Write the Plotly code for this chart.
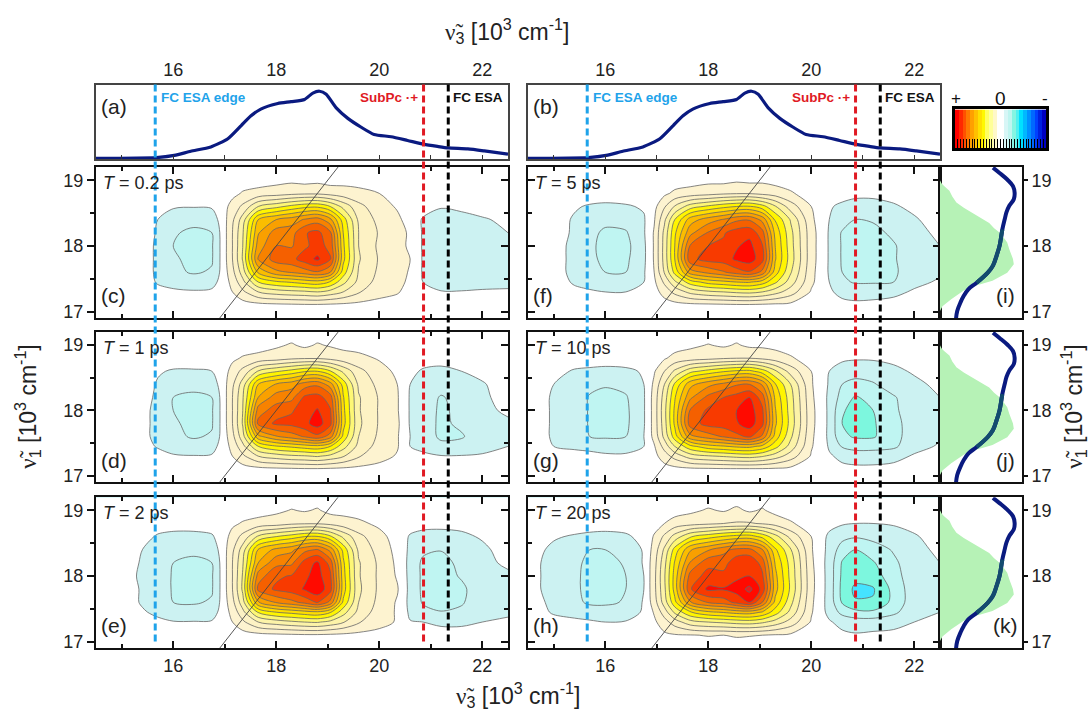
import plotly.graph_objects as go

W, H = 1091, 711

# ---------- data ----------
V3 = [14.5,15.0,15.4,15.7,16.0,16.4,16.75,16.95,17.15,17.35,17.65,18.0,18.3,18.55,18.8,19.05,19.3,19.6,20.0,20.35,20.6,20.85,21.2,21.6,22.0,22.5]
V1 = [16.9,17.1,17.3,17.45,17.6,17.8,18.0,18.2,18.4,18.6,18.8,19.0,19.2]
ZERO = [0]*26

Z_C = [ZERO,
 [0,0,0,0,0,0,0,0, 0,.05,.15,.25,.3,.35,.35,.3,.25,.2,.1,0, 0,0,-.1,-.1,-.1,-.1],
 [0,0,0,-.2,-.3,-.4,-.3,0, .5,1.3,2.5,3,3.2,3.3,3.5,3.1,2.5,1.6,.9,.6, .1,-.3,-.45,-.45,-.4,-.4],
 [0,0,0,-.6,-.9,-1,-.9,-.1, .8,2.2,4.5,5.3,5.6,5.9,6.1,5.4,3.8,2.2,1.1,.8, .3,-.5,-.9,-.9,-.8,-.7],
 [0,0,0,-.7,-1.3,-1.6,-1.4,-.2, 1.2,3,6.7,8.2,8.6,9,9.4,8.5,5,2.4,1.3,.9, .4,-.6,-.9,-.9,-.8,-.8],
 [0,0,0,-.7,-1.4,-1.7,-1.6,-.2, 1.5,3.6,8.6,10,10.2,11,11.7,10.6,5.8,2.6,1.4,1, .5,-.6,-.9,-.9,-.9,-.8],
 [0,0,0,-.7,-1.5,-1.8,-1.6,-.2, 1.5,3.5,8,9.5,9.4,10.3,10.9,10.2,5.7,2.5,1.3,.9, .3,-.6,-.9,-.9,-.9,-.7],
 [0,0,0,-.6,-1.4,-1.7,-1.5,-.2, 1.5,3.4,7.4,9,9.1,10.4,10.8,9.7,5.5,2.5,1.4,1, .3,-.6,-.9,-.9,-.8,-.5],
 [0,0,0,-.5,-1,-1.2,-1,-.1, 1.3,3,6.5,7.5,8,8.6,9,7.8,5,2.3,1.2,.7, .1,-.6,-.8,-.8,-.6,-.3],
 [0,0,0,-.1,-.4,-.45,-.4,0, .9,1.7,3.5,4.2,4.8,5.2,5.3,4.5,3.2,1.8,.9,.4, 0,-.1,-.45,-.3,-.1,0],
 [0,0,0,0,0,0,0,0, .2,.6,.8,1,1.2,1.3,1.3,1.1,.9,.8,.5,.1, 0,0,0,0,0,0],
 [0,0,0,0,0,0,0,0, 0,0,.1,.2,.3,.15,.25,.1,.2,.1,0,0, 0,0,0,0,0,0],
 ZERO]

Z_D = [ZERO,
 [0,0,0,0,0,0,0,0, 0,.05,.15,.25,.3,.35,.35,.3,.25,.2,.1,0, 0,0,-.1,-.1,-.1,-.1],
 [0,0,0,-.1,-.4,-.45,-.4,0, .5,1.3,2.5,3,3.3,3.4,3.6,3.2,2.6,1.6,.9,.4, -.3,-.35,-.45,-.45,-.4,-.3],
 [0,0,-.1,-.6,-.9,-1.1,-.9,-.1, .8,2.2,4.5,5.4,5.7,6,6.2,5.5,3.9,2.2,1.1,.6, -.5,-.7,-1.2,-1.1,-.8,-.5],
 [0,0,-.2,-.8,-1.3,-1.6,-1.4,-.2, 1.2,3.1,7.2,8.4,9,9.6,10.2,9,5.2,2.5,1.3,.6, -.5,-.9,-1.7,-1.6,-.9,-.7],
 [0,0,-.2,-.8,-1.4,-1.7,-1.6,-.2, 1.5,3.6,9.8,10.7,10.8,11.2,12,10.8,5.9,2.7,1.4,.7, -.6,-1,-1.7,-1.3,-.8,-.7],
 [0,0,-.2,-.8,-1.5,-1.8,-1.6,-.2, 1.5,3.5,9,10,10.4,11,11.6,10.6,5.8,2.6,1.4,.6, -.6,-.9,-1.7,-1.2,-.8,-.3],
 [0,0,-.1,-.7,-1.5,-1.7,-1.5,-.2, 1.5,3.4,7.5,9,9.2,10.7,10.9,10,5.6,2.6,1.4,.6, -.6,-.9,-1.6,-1.1,-.7,-.1],
 [0,0,0,-.6,-1,-1.2,-1,-.1, 1.3,3,6.5,7.6,8.1,9,9.3,8,5.1,2.3,1.2,.5, -.5,-.8,-1,-.9,-.6,0],
 [0,0,0,-.4,-.6,-.6,-.5,-.1, .9,1.8,3.6,4.4,4.9,5.4,5.5,4.6,3.3,1.8,.9,.3, -.3,-.6,-.7,-.5,-.2,0],
 [0,0,0,0,0,0,0,0, .3,.6,.8,1,1.3,1.4,1.4,1.2,.9,.8,.4,.1, 0,-.15,-.2,-.1,0,0],
 [0,0,0,0,0,0,0,0, 0,0,.1,.35,.6,.3,.6,.4,.25,.1,0,0, 0,0,0,0,0,0],
 ZERO]

Z_E = [ZERO,
 [0,0,0,0,0,0,0,0, 0,.05,.15,.25,.3,.35,.35,.3,.25,.2,.1,0, -.1,-.2,-.3,-.3,-.2,-.1],
 [0,0,-.1,-.3,-.45,-.45,-.4,0, .5,1.3,2.5,3,3.3,3.5,3.6,3.2,2.6,1.6,.9,.4, -.45,-.5,-.6,-.6,-.5,-.4],
 [0,0,-.4,-.7,-1,-1.1,-1,-.1, .8,2.2,4.6,5.5,5.8,6.1,6.3,5.6,3.9,2.2,1,.4, -.7,-1.2,-1.45,-1.3,-.9,-.6],
 [0,0,-.6,-.9,-1.5,-1.6,-1.4,-.2, 1.2,3.1,7.4,8.6,9.2,9.8,10.6,9.2,5.3,2.5,1.2,.4, -.8,-1.6,-1.9,-1.6,-.9,-.7],
 [0,0,-.6,-.9,-1.6,-1.7,-1.6,-.2, 1.5,3.7,9.8,10.7,11,11.6,12.2,10.9,6,2.7,1.3,.6, -.8,-1.7,-1.9,-1.7,-.9,-.8],
 [0,0,-.7,-.9,-1.6,-1.8,-1.6,-.2, 1.5,3.6,9,10.3,10.6,11.3,11.9,10.7,5.9,2.6,1.3,.4, -.8,-1.7,-1.9,-1.4,-.8,-.7],
 [0,0,-.6,-.9,-1.5,-1.7,-1.5,-.2, 1.5,3.4,7.5,9.2,9.3,10.9,11.7,10.1,5.7,2.6,1.3,.3, -.8,-1.7,-1.9,-1.2,-.8,-.3],
 [0,0,-.5,-.8,-1.1,-1.3,-1.1,-.1, 1.3,3,6.6,7.8,8.3,9.2,9.6,8.2,5.2,2.3,1.1,.2, -.7,-1.3,-1.45,-1,-.7,-.1],
 [0,0,-.2,-.6,-.7,-.7,-.6,-.1, .9,1.8,3.7,4.5,5,5.5,5.6,4.7,3.3,1.8,.8,.1, -.6,-.7,-.75,-.7,-.4,0],
 [0,0,0,-.1,-.2,-.2,-.1,0, .3,.6,.8,1,1.3,1.4,1.4,1.2,.9,.7,.3,0, -.1,-.3,-.3,-.2,-.1,0],
 [0,0,0,0,0,0,0,0, 0,0,.15,.3,.55,.4,.6,.2,.2,.1,0,0, 0,0,0,0,0,0],
 ZERO]

Z_F = [ZERO,
 [0,0,0,0,0,0,0,0, .05,.1,.2,.25,.3,.35,.35,.3,.25,.2,.05,-.1, -.3,-.35,-.3,-.2,-.1,0],
 [0,0,-.3,-.4,-.5,-.5,-.3,.1, .9,1.8,2.8,3.3,3.5,3.7,3.8,3.5,2.9,2,.4,-.4, -.7,-.8,-.8,-.7,-.4,-.2],
 [0,-.1,-.6,-.8,-1,-1,-.5,.3, 1.7,3.3,5,5.9,6.2,6.5,6.6,6,4.7,3,.7,-.5, -1.3,-1.6,-1.6,-1.5,-.7,-.4],
 [0,-.2,-.7,-1.2,-1.5,-1.5,-.6,.5, 2.6,4.8,8,8.8,9.4,10,10.4,9.2,6,3.6,.8,-.6, -1.5,-2.3,-2.5,-1.7,-.8,-.6],
 [0,-.2,-.7,-1.3,-1.7,-1.7,-.7,.6, 2.9,5.5,10.2,10.9,11,11.7,12,10.9,6.6,4,.9,-.6, -1.6,-2.5,-2.2,-1.6,-.9,-.7],
 [0,-.2,-.7,-1.3,-1.8,-1.8,-.7,.6, 2.9,5.5,9.6,10.5,10.7,11.4,11.8,10.6,6.5,3.9,.9,-.6, -1.6,-2.2,-1.9,-1.6,-.9,-.5],
 [0,-.2,-.6,-1.2,-1.7,-1.6,-.6,.6, 2.8,5.3,8.2,9.6,10.4,11,11.2,9.9,6.2,3.8,.9,-.6, -1.6,-1.9,-1.8,-1.3,-.8,-.3],
 [0,-.1,-.6,-.9,-1.2,-1.1,-.6,.4, 2.3,4.5,7,8,8.6,9.3,9.4,8.2,5.4,3.4,.7,-.5, -1,-1.5,-1.4,-.9,-.6,-.1],
 [0,0,-.4,-.6,-.7,-.6,-.4,.2, 1.4,2.6,4,4.7,5.2,5.5,5.6,4.9,3.6,2,.5,-.4, -.7,-.8,-.8,-.6,-.3,0],
 [0,0,0,0,0,0,0,0, .3,.7,.9,1.1,1.3,1.4,1.4,1.2,1,.6,.1,0, -.1,-.3,-.3,-.2,0,0],
 [0,0,0,0,0,0,0,0, 0,0,.1,.25,.2,.35,.25,.3,.15,.1,0,0, 0,0,0,0,0,0],
 ZERO]

Z_G = [ZERO,
 [0,0,0,0,0,0,0,0, .1,.15,.25,.3,.35,.35,.35,.35,.3,.2,.05,-.1, -.3,-.3,-.3,-.2,-.1,0],
 [0,0,-.1,-.2,-.3,-.3,-.2,.2, 1,1.9,3,3.4,3.6,3.8,3.9,3.6,3,2,.4,-.4, -.7,-.9,-.9,-.8,-.4,-.1],
 [0,-.5,-.7,-.8,-1,-1,-.5,.4, 1.9,3.5,5.2,6.1,6.4,6.7,6.8,6.2,4.9,3.1,.6,-.6, -1.6,-1.9,-1.9,-1.7,-.8,-.4],
 [0,-.6,-.8,-1.5,-1.6,-1.5,-.5,.8, 2.8,5,8.2,9,9.6,10.2,10.7,9.3,6.1,3.7,.7,-.7, -2.3,-2.6,-2.6,-1.9,-.9,-.6],
 [0,-.6,-.9,-1.6,-1.8,-1.7,-.6,.9, 3.1,5.7,10,10.9,11,11.4,12,10.8,6.7,4.1,.8,-.7, -2.5,-2.8,-2.6,-1.9,-.9,-.7],
 [0,-.6,-.9,-1.6,-1.8,-1.7,-.6,.9, 3.2,5.7,9.6,10.7,10.9,11.5,12,10.7,6.6,4,.8,-.7, -2.4,-2.8,-2.5,-1.7,-.9,-.7],
 [0,-.6,-.9,-1.6,-1.8,-1.6,-.6,.9, 3,5.4,8.3,9.8,10.5,10.9,11.5,10,6.3,3.9,.7,-.7, -1.9,-2.6,-2.2,-1.6,-.9,-.5],
 [0,-.5,-.8,-1.2,-1.4,-1.2,-.5,.7, 2.5,4.7,7.2,8.2,8.8,9.4,9.5,8.4,5.6,3.5,.6,-.6, -1.5,-1.8,-1.6,-1,-.7,-.3],
 [0,-.2,-.6,-.7,-.8,-.7,-.4,.4, 1.5,2.7,4.2,4.9,5.4,5.7,5.8,5,3.7,2.1,.5,-.5, -1,-1.1,-1,-.7,-.4,0],
 [0,0,0,0,0,0,0,.1, .4,.8,1,1.2,1.4,1.5,1.5,1.3,1,.6,.1,-.1, -.3,-.4,-.4,-.3,-.1,0],
 [0,0,0,0,0,0,0,0, 0,.1,.3,.55,.35,.6,.3,.3,.2,.1,0,0, 0,0,0,0,0,0],
 ZERO]

Z_H = [ZERO,
 [0,0,0,0,0,0,0,.1, .3,.4,.45,.55,.5,.6,.55,.5,.4,.3,.1,-.1, -.3,-.4,-.3,-.2,-.1,0],
 [0,-.2,-.3,-.4,-.5,-.45,-.2,.3, 1.1,2,3.1,3.5,3.7,3.9,4,3.7,3.1,2.1,.4,-.4, -.8,-1,-1,-.9,-.5,-.2],
 [0,-.6,-.8,-.9,-1,-.9,-.4,.6, 2,3.7,5.4,6.3,6.6,6.9,7,6.4,5,3.2,.6,-.8, -1.8,-2.2,-2.3,-1.7,-.9,-.5],
 [-.1,-.7,-1.2,-1.7,-1.7,-1.4,-.4,1, 3,5.2,8.4,9.6,10,10.8,11.5,9.5,6.2,3.8,.7,-.9, -2.6,-3.4,-3.4,-2.2,-.9,-.7],
 [-.2,-.8,-1.3,-1.8,-1.9,-1.5,-.5,1.2, 3.3,5.9,10.4,11.7,11.6,11.9,12.8,11.2,6.9,4.3,.8,-.9, -2.8,-3.7,-3.6,-2.2,-.9,-.8],
 [-.2,-.8,-1.3,-1.8,-1.9,-1.5,-.5,1.2, 3.4,5.9,9.9,10.9,10.8,11.3,11.5,10.7,6.8,4.2,.8,-.9, -2.7,-3.2,-3,-1.9,-.9,-.7],
 [-.2,-.8,-1.2,-1.8,-1.8,-1.4,-.4,1.1, 3.2,5.6,8.6,10.2,10.1,11.2,11.4,10.1,6.4,4.1,.7,-.9, -2.6,-2.9,-2.6,-1.7,-.9,-.5],
 [-.1,-.7,-1.1,-1.5,-1.5,-1.2,-.4,.9, 2.7,4.9,7.4,8.4,9.2,9.8,9.8,8.6,5.7,3.6,.6,-.8, -2,-2.5,-2,-1.4,-.8,-.3],
 [0,-.4,-.6,-.7,-.7,-.6,-.3,.6, 1.7,2.9,4.4,5.1,5.6,5.9,6,5.2,3.9,2.2,.5,-.7, -1.2,-1.4,-1.2,-1,-.6,-.1],
 [0,0,0,-.1,-.2,-.2,0,.1, .5,.9,1.1,1.3,1.5,1.6,1.6,1.4,1.1,.6,.1,-.2, -.4,-.5,-.5,-.4,-.2,0],
 [0,0,0,0,0,0,0,0, 0,.1,.3,.6,.4,.7,.35,.6,.2,.1,0,0, 0,0,0,0,0,0],
 ZERO]

ABS_X = [14.5,15.67,16.02,16.34,16.73,17.06,17.32,17.51,17.70,18.03,18.29,18.55,18.71,18.84,18.97,19.16,19.39,19.65,19.90,20.23,20.55,20.86,21.13,21.34,21.72,22.04,22.5]
ABS_Y = [.01,.02,.05,.105,.163,.273,.45,.58,.67,.745,.77,.80,.885,.91,.87,.69,.546,.427,.33,.30,.25,.2,.17,.15,.137,.11,.066]

SIDE_V1 = [19.19,19.11,19.01,18.91,18.81,18.71,18.61,18.51,18.41,18.25,18.0,17.85,17.7,17.59,17.44,17.34,17.24,17.14,17.01,16.89]
SIDE_LINE = [.646,.726,.82,.89,.91,.90,.845,.81,.79,.76,.726,.69,.646,.58,.447,.345,.29,.25,.21,.195]
GREEN_V1 = [19.0,18.95,18.91,18.84,18.75,18.66,18.58,18.51,18.43,18.35,18.27,18.2,18.12,18.05,17.95,17.87,17.8,17.72,17.65,17.59,17.47,17.39,17.32,17.19,17.08,17.01]
GREEN_X = [0,.02,.05,.115,.15,.2,.29,.38,.5,.6,.66,.73,.78,.82,.845,.87,.89,.9,.86,.82,.64,.42,.29,.137,.03,0]

PEAK_LINES = [15.65, 20.86, 21.34]
PEAK_COLORS = ["#1FA3EA", "#E01A24", "#000000"]

BAND_COLORS = ["#3060FF","#45E3FF","#7DF7DE","#BFF5F2","#CCF2F2","#FFFFFF","#FDF3D0","#FDF2C4","#FCF3A8",
               "#FDF775","#FFF500","#FFDD00","#FBBD00","#F9A000","#F78200","#F56000","#F83A00","#FF0A00","#E82020","#C00000"]
CBAR_COLORS = ["#FF0000","#FF2800","#FF5000","#FF7800","#FFA000","#FFC000","#FFE000","#FFF800","#FFFF60","#FFFF98",
               "#FFF8C8","#FFFFFF","#FFFFFF","#D8F6F6","#BFF5F0","#85F5E2","#50F0F0","#00E0FF","#00B8FF","#0090FF",
               "#0068FF","#0040FF","#0020E0","#0000C0"]

TIMES = ["0.2","1","2","5","10","20"]
NAVY = "#0A1A80"
FS = 18
FONT = "Liberation Sans"
INK = "#111111"
NU = "<span style=\"font-family:'Liberation Serif'\">ν\u0303</span>"
NU3 = NU + "<sub>3</sub> [10<sup>3</sup> cm<sup>-1</sup>]"
NU1 = NU + "<sub>1</sub> [10<sup>3</sup> cm<sup>-1</sup>]"
XR = [14.5, 22.5]
YR = [16.9, 19.2]

# ---------- layout helpers ----------
LX = (96, 508); RX = (528, 940); SX = (940, 1022)
ROWS = [(168, 320), (334, 485), (500, 652)]
fig = go.Figure()
layout = {}
n_ax = [0]

def fx(p): return p / W
def fy(p): return 1 - p / H
def new_axes(xpx, ypx, xo, yo):
    n_ax[0] += 1
    k = n_ax[0]
    s = "" if k == 1 else str(k)
    xo = dict(xo, domain=[fx(xpx[0]), fx(xpx[1])], anchor="y" + s)
    yo = dict(yo, domain=[fy(ypx[1]), fy(ypx[0])], anchor="x" + s)
    layout["xaxis" + s] = xo
    layout["yaxis" + s] = yo
    return "x" + s, "y" + s

LINE = dict(showline=True, linecolor=INK, linewidth=2, showgrid=False, zeroline=False,
            tickcolor=INK, tickwidth=1.5, tickfont=dict(size=FS, family=FONT, color="#222222"))
def xmain(labels):
    return dict(LINE, range=XR, tick0=16, dtick=2, ticks="inside", ticklen=7, mirror="ticks",
                minor=dict(dtick=1, tick0=15, ticks="inside", ticklen=4, tickcolor=INK, tickwidth=1.5),
                showticklabels=labels, side="bottom")
def ymain(side_ticks):
    return dict(LINE, range=YR, tick0=17, dtick=1,
                minor=dict(dtick=.5, tick0=17, ticks=side_ticks, ticklen=4, tickcolor=INK, tickwidth=1.5))

def contour_panel(col, row, z, labels_x):
    xpx = LX if col == 0 else RX
    if col == 0:
        yo = dict(ymain("outside"), ticks="outside", ticklen=7, showticklabels=True, mirror=True, side="left")
    else:
        yo = dict(ymain("inside"), ticks="inside", ticklen=7, showticklabels=False, mirror="ticks", side="left")
    xa, ya = new_axes(xpx, ROWS[row], xmain(labels_x), yo)
    n_bands = len(BAND_COLORS) - 1
    fig.add_trace(go.Contour(x=V3, y=V1, z=z, xaxis=xa, yaxis=ya, showscale=False, hoverinfo="skip",
                             contours=dict(start=-4.5, end=13.5, size=1, coloring="fill", showlines=True),
                             line=dict(color="#666666", width=.8, smoothing=.9),
                             colorscale=[[i / n_bands, c] for i, c in enumerate(BAND_COLORS)]))
    fig.add_trace(go.Scatter(x=YR, y=YR, xaxis=xa, yaxis=ya, mode="lines", showlegend=False, hoverinfo="skip",
                             line=dict(color="#444444", width=.9)))
    if col == 0:
        n_ax[0] += 1
        s = str(n_ax[0])
        layout["yaxis" + s] = dict(ymain("inside"), ticks="inside", ticklen=7, showticklabels=False, side="right",
                                   overlaying=ya, anchor=xa, showline=False)
        fig.add_trace(go.Scatter(x=[None], y=[None], xaxis=xa, yaxis="y" + s, showlegend=False))
    return xa

def top_panel(xpx):
    xo = dict(LINE, range=XR, tick0=16, dtick=2, ticks="", side="top", mirror=True, linecolor="#444444", linewidth=1.5)
    yo = dict(showline=True, linecolor="#444444", linewidth=1.5, mirror=True, range=[0, 1], showticklabels=False,
              ticks="", showgrid=False, zeroline=False)
    xa, ya = new_axes(xpx, (85, 160), xo, yo)
    fig.add_trace(go.Scatter(x=ABS_X, y=ABS_Y, xaxis=xa, yaxis=ya, mode="lines", showlegend=False,
                             line=dict(color=NAVY, width=3.2, shape="spline", smoothing=.6)))
    n_ax[0] += 1
    s = str(n_ax[0])
    layout["xaxis" + s] = dict(range=XR, dtick=1, tick0=15, ticks="inside", ticklen=4, tickcolor="#333333",
                               tickwidth=1.2, showticklabels=False, showgrid=False, zeroline=False, side="bottom",
                               overlaying=xa, anchor=ya, showline=False)
    fig.add_trace(go.Scatter(x=[None], y=[None], xaxis="x" + s, yaxis=ya, showlegend=False))
    return xa

def side_panel(row):
    xo = dict(LINE, range=[0, 1], showticklabels=False, ticks="", mirror=True)
    yo = dict(LINE, range=YR, tick0=17, dtick=1, ticks="outside", ticklen=4, side="right", mirror=True)
    xa, ya = new_axes(SX, ROWS[row], xo, yo)
    fig.add_trace(go.Scatter(x=GREEN_X, y=GREEN_V1, xaxis=xa, yaxis=ya, mode="lines", fill="tozerox",
                             fillcolor="#B6F2B6", line=dict(width=0, color="#B6F2B6"), showlegend=False))
    fig.add_trace(go.Scatter(x=SIDE_LINE, y=SIDE_V1, xaxis=xa, yaxis=ya, mode="lines", showlegend=False,
                             line=dict(color=NAVY, width=4, shape="spline")))
    fig.add_trace(go.Scatter(x=SIDE_LINE[9:15], y=SIDE_V1[9:15], xaxis=xa, yaxis=ya, mode="lines", showlegend=False,
                             line=dict(color="#134C6E", width=4, shape="spline")))

# ---------- panels ----------
xa_a = top_panel(LX)
xa_b = top_panel(RX)
Z_ALL = [Z_C, Z_D, Z_E, Z_F, Z_G, Z_H]
for i, z in enumerate(Z_ALL):
    col, row = i // 3, i % 3
    contour_panel(col, row, z, row == 2)
for r in range(3):
    side_panel(r)

# colour scale
xa, ya = new_axes((955, 1046), (110, 149),
                  dict(range=[-.5, len(CBAR_COLORS) - .5], tick0=-.5, dtick=.75, ticks="inside", ticklen=9,
                       tickcolor="#000000", tickwidth=1.2, showticklabels=False, showgrid=False, zeroline=False,
                       showline=True, linecolor="#000000", linewidth=3, mirror=True),
                  dict(range=[-.5, .5], showticklabels=False, ticks="", showgrid=False, zeroline=False,
                       showline=True, linecolor="#000000", linewidth=3, mirror=True))
m = len(CBAR_COLORS)
cs = []
for i, c in enumerate(CBAR_COLORS):
    cs += [[i / m, c], [(i + 1) / m, c]]
fig.add_trace(go.Heatmap(z=[list(range(m))], xaxis=xa, yaxis=ya, showscale=False, zmin=-.5, zmax=m - .5,
                         colorscale=cs, hoverinfo="skip"))

# dashed guide lines
shapes = []
for xref in (xa_a, xa_b):
    for v, c in zip(PEAK_LINES, PEAK_COLORS):
        shapes.append(dict(type="line", xref=xref, yref="paper", x0=v, x1=v, y0=fy(85), y1=fy(649),
                           line=dict(color=c, width=3, dash="7px,4px"), layer="above"))

# text
ann = []
def label(px, py, text, size=FS, color="#222222", anchor="left", angle=0, bold=False):
    ann.append(dict(x=fx(px), y=fy(py), xref="paper", yref="paper", text=("<b>%s</b>" % text) if bold else text,
                    showarrow=False, xanchor=anchor, yanchor="middle", textangle=angle,
                    font=dict(size=size, family=FONT, color=color)))

for i, t in enumerate(TIMES):
    col, row = i // 3, i % 3
    x0 = LX[0] if col == 0 else RX[0]
    label(x0 + 5, ROWS[row][0] + 16, "<i>T</i> = %s ps" % t, 18)
    label(x0 + 3, ROWS[row][0] + 129, "(%s)" % "cdefgh"[i], 21)
for r, t in enumerate("ijk"):
    label(1005, ROWS[r][0] + 129, "(%s)" % t, 21, anchor="center")
for x0, t, xr in ((LX[0], "a", 0), (RX[0], "b", 432)):
    label(x0 + 3, 107, "(%s)" % t, 21)
    label(159 + xr, 98, "FC ESA edge", 13.5, "#1FA3EA", bold=True)
    label(420 + xr, 98, "SubPc ·+", 13.5, "#E01A24", anchor="right", bold=True)
    label(451 + xr, 98, "FC ESA", 13.5, "#111111", bold=True)
label(956, 99, "+", 17, "#111111", anchor="center")
label(1000, 99, "0", 19, "#111111", anchor="center")
label(1045, 99, "-", 17, "#111111", anchor="center")
label(507, 31, NU3, 23, anchor="center")
label(518, 699, NU3, 23, anchor="center")
label(27, 409, NU1, 23, anchor="center", angle=-90)
label(1073, 409, NU1, 23, anchor="center", angle=-90)

fig.update_layout(width=W, height=H, autosize=False, margin=dict(l=0, r=0, t=0, b=0), paper_bgcolor="white",
                  plot_bgcolor="white", showlegend=False, shapes=shapes, annotations=ann, **layout)
fig.write_html("out.html", config={"displayModeBar": False}, post_script="document.body.style.margin='0';")
